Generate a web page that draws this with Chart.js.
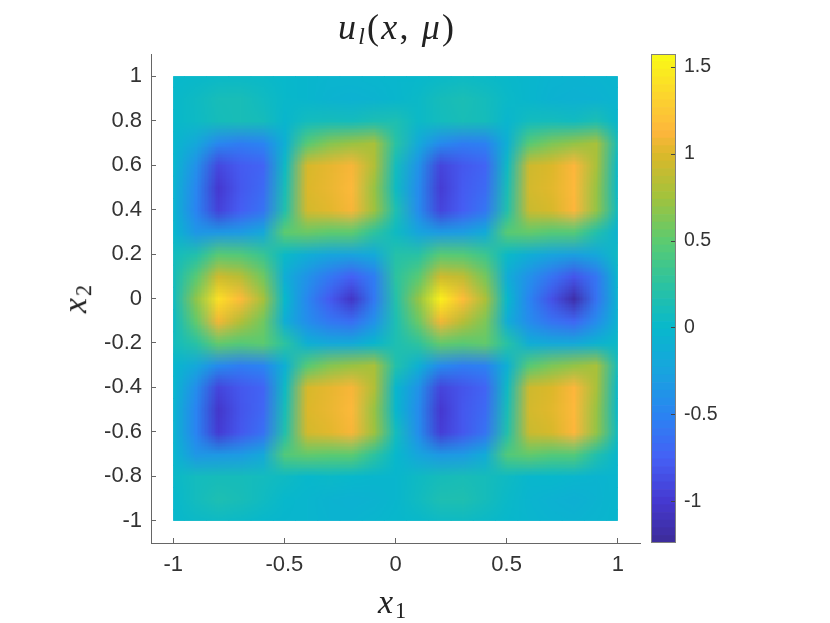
<!DOCTYPE html>
<html>
<head>
<meta charset="utf-8">
<title>u_l(x, mu)</title>
<script src="https://cdn.jsdelivr.net/npm/chart.js@4/dist/chart.umd.min.js"></script>
<style>
  html, body { margin: 0; padding: 0; background: #fff; }
  #wrap { position: relative; width: 830px; height: 623px; overflow: hidden; }
  canvas { position: absolute; top: 0; }
  .mathText { position: absolute; font-family: "Liberation Serif", serif; color: #222; white-space: nowrap; line-height: 1; }
  .mathText i { font-style: italic; }
  .mathText sub { font-size: 66%; vertical-align: baseline; position: relative; top: 0.22em; }
</style>
</head>
<body>
<div id="wrap">
  <canvas id="heatChart" width="830" height="623" style="left:0"></canvas>
  <canvas id="barChart" width="190" height="623" style="left:640px"></canvas>
  <div class="mathText" style="left:338px;top:9px;font-size:36px;letter-spacing:2.2px"><i>u<sub>l</sub></i>(<i>x</i>, <i>μ</i>)</div>
  <div class="mathText" style="left:378px;top:585px;font-size:34px;letter-spacing:2px"><i>x</i><sub>1</sub></div>
  <div class="mathText" style="left:60px;top:281px;font-size:34px;letter-spacing:2px;transform:rotate(-90deg)"><i>x</i><sub>2</sub></div>
</div>
<script>
// Grid nodes
const xNodes = [-1, -0.9, -0.8, -0.7, -0.6, -0.5, -0.4, -0.3, -0.2, -0.1, 0, 0.1, 0.2, 0.3, 0.4, 0.5, 0.6, 0.7, 0.8, 0.9, 1];
const yNodes = [1, 0.9, 0.8, 0.7, 0.6, 0.5, 0.4, 0.3, 0.2, 0.1, 0, -0.1, -0.2, -0.3, -0.4, -0.5, -0.6, -0.7, -0.8, -0.9, -1];

// u values, times 100, one row per y node
const uRows = [
  [0, 1, 2, 3, 2, 0, -2, -4, -4, -3, -1, 0, 2, 4, 3, 1, -2, -5, -6, -5, -3],
  [1, 5, 11, 12, 6, 1, -2, -6, -8, -6, -2, 3, 10, 13, 9, 2, -2, -7, -9, -8, -4],
  [1, 4, 10, 12, 10, -2, 8, 10, 9, 14, 15, 3, 8, 12, 10, -3, 8, 9, 7, 14, -2],
  [-2, -20, -48, -55, -50, -10, 48, 65, 72, 78, 22, -18, -45, -55, -52, -10, 48, 62, 70, 78, 10],
  [-3, -40, -90, -78, -72, 5, 98, 104, 110, 82, 8, -38, -92, -80, -72, 5, 94, 100, 112, 78, 0],
  [-6, -48, -100, -80, -68, 12, 100, 105, 114, 72, 5, -44, -97, -78, -68, 12, 96, 102, 114, 72, 0],
  [-6, -50, -94, -76, -62, 18, 96, 102, 110, 74, 15, -44, -92, -76, -60, 18, 92, 98, 112, 70, 5],
  [-2, -35, -34, -32, -20, 50, 55, 50, 50, 26, 5, -24, -32, -30, -16, 48, 52, 46, 46, 18, -8],
  [8, 18, 48, 45, 32, 2, -12, -22, -25, -18, 20, 22, 48, 46, 34, 2, -12, -24, -28, -20, 5],
  [10, 48, 95, 85, 58, -12, -38, -58, -75, -55, 25, 48, 95, 88, 60, -14, -40, -62, -82, -60, 0],
  [8, 68, 140, 115, 78, 0, -48, -78, -104, -58, 20, 70, 150, 116, 80, 0, -50, -84, -115, -62, -5],
  [5, 52, 108, 82, 58, -12, -42, -58, -65, -40, 15, 55, 108, 84, 62, -14, -44, -62, -70, -44, -5],
  [8, 22, 52, 46, 50, 25, -10, -18, -16, -2, 15, 26, 52, 48, 52, 22, -12, -18, -18, -6, 3],
  [-2, -20, -45, -55, -50, -10, 48, 65, 72, 78, 18, -10, -45, -55, -52, -10, 48, 62, 70, 78, 8],
  [-3, -42, -92, -80, -72, 5, 98, 104, 110, 82, -2, -38, -92, -82, -72, 5, 94, 100, 112, 78, 0],
  [-6, -50, -102, -82, -70, 12, 100, 105, 114, 72, -2, -44, -100, -80, -68, 12, 96, 102, 114, 72, 0],
  [-6, -50, -98, -80, -64, 18, 96, 102, 110, 74, 8, -42, -96, -80, -62, 18, 92, 98, 112, 70, 5],
  [-3, -35, -34, -32, -20, 45, 52, 50, 50, 26, 0, -24, -34, -32, -16, 45, 52, 46, 46, 18, -3],
  [2, 8, 10, 10, 8, 5, 0, 2, 0, -2, -2, 5, 10, 12, 10, 5, -1, 0, -3, -5, -3],
  [0, 8, 15, 12, 6, 0, -3, -6, -8, -6, -2, 6, 15, 16, 10, 2, -4, -8, -10, -6, -2],
  [0, 3, 4, 3, 0, -2, -3, -5, -5, -3, 0, 1, 4, 5, 3, 0, -3, -5, -6, -4, -2]
];

const xTicks = [-1, -0.5, 0, 0.5, 1];
const yTicks = [-1, -0.8, -0.6, -0.4, -0.2, 0, 0.2, 0.4, 0.6, 0.8, 1];
const barTicks = [-1, -0.5, 0, 0.5, 1, 1.5];
const barMin = -1.236;
const barMax = 1.575;

// colour map, colours
const mapValues = [-1.236, -1, -0.75, -0.5, -0.25, 0, 0.25, 0.5, 0.75, 1, 1.12, 1.3, 1.575];
const mapColors = ["#3c2c98", "#4538d0", "#4560f5", "#2a84f2", "#18a4de", "#08b8cc", "#2cc3a0", "#5ccb70", "#a2c23c", "#dcb82a", "#fdb63c", "#fcd030", "#f9fb15"];

const TICK_FONT = { family: "'Liberation Sans', Arial, sans-serif", size: 22 };
const BAR_FONT = { family: "'Liberation Sans', Arial, sans-serif", size: 19.5 };
const TEXT_COLOR = "#333";
const AXIS_COLOR = "#666";

function hexToRgb(hex) {
  return [1, 3, 5].map((i) => parseInt(hex.slice(i, i + 2), 16));
}

function colorFor(v) {
  let i = 0;
  while (i < mapValues.length - 2 && v > mapValues[i + 1]) i++;
  let t = (v - mapValues[i]) / (mapValues[i + 1] - mapValues[i]);
  t = Math.max(0, Math.min(1, t));
  const a = hexToRgb(mapColors[i]);
  const b = hexToRgb(mapColors[i + 1]);
  return `rgb(${a.map((c, k) => Math.round(c + (b[k] - c) * t)).join(",")})`;
}

// One point per grid node
const cells = [];
const cellColors = [];
yNodes.forEach((y, r) => {
  xNodes.forEach((x, c) => {
    cells.push({ x: x, y: y });
    cellColors.push(colorFor(uRows[r][c] / 100));
  });
});

// Shades between the nodes, like shading interp does
const interpShading = {
  id: "interpShading",
  afterDatasetsDraw(chart) {
    const { ctx, scales } = chart;
    const small = document.createElement("canvas");
    small.width = xNodes.length;
    small.height = yNodes.length;
    const sctx = small.getContext("2d");
    cellColors.forEach((col, i) => {
      sctx.fillStyle = col;
      sctx.fillRect(i % xNodes.length, Math.floor(i / xNodes.length), 1, 1);
    });
    const left = scales.x.getPixelForValue(xNodes[0]);
    const right = scales.x.getPixelForValue(xNodes[xNodes.length - 1]);
    const top = scales.y.getPixelForValue(yNodes[0]);
    const bottom = scales.y.getPixelForValue(yNodes[yNodes.length - 1]);
    const dx = (right - left) / (xNodes.length - 1);
    const dy = (bottom - top) / (yNodes.length - 1);
    ctx.save();
    ctx.beginPath();
    ctx.rect(left, top, right - left, bottom - top);
    ctx.clip();
    ctx.imageSmoothingEnabled = true;
    ctx.imageSmoothingQuality = "low";
    ctx.drawImage(small, left - dx / 2, top - dy / 2, dx * xNodes.length, dy * yNodes.length);
    ctx.restore();
  },
};

new Chart(document.getElementById("heatChart"), {
  type: "scatter",
  data: {
    datasets: [
      {
        data: cells,
        pointStyle: "rect",
        pointRadius: 16.5,
        pointBorderWidth: 0,
        backgroundColor: cellColors,
        clip: -22.25,
      },
    ],
  },
  options: {
    responsive: false,
    animation: false,
    devicePixelRatio: 1,
    layout: { padding: { left: 0, top: 54, right: 190, bottom: 0 } },
    plugins: { legend: { display: false }, tooltip: { enabled: false } },
    scales: {
      x: {
        type: "linear",
        min: -1.1,
        max: 1.1,
        afterFit: (scale) => { scale.height = 80; },
        afterBuildTicks: (scale) => { scale.ticks = xTicks.map((v) => ({ value: v })); },
        border: { color: AXIS_COLOR, width: 1 },
        grid: { drawOnChartArea: false, tickLength: -5, color: AXIS_COLOR },
        ticks: {
          padding: 14,
          maxRotation: 0,
          autoSkip: false,
          color: TEXT_COLOR,
          font: TICK_FONT,
          callback: (v) => String(v),
        },
      },
      y: {
        type: "linear",
        min: -1.1,
        max: 1.1,
        afterFit: (scale) => { scale.width = 151; },
        afterBuildTicks: (scale) => { scale.ticks = yTicks.map((v) => ({ value: v })); },
        border: { color: AXIS_COLOR, width: 1 },
        grid: { drawOnChartArea: false, tickLength: -5, color: AXIS_COLOR },
        ticks: {
          padding: 14,
          autoSkip: false,
          color: TEXT_COLOR,
          font: TICK_FONT,
          callback: (v) => String(v),
        },
      },
    },
  },
  plugins: [interpShading],
});

// Colorbar: one floating bar per colour level
const barLevels = 64;
const levelSets = [];
for (let i = 0; i < barLevels; i++) {
  const lo = barMin + ((barMax - barMin) * i) / barLevels;
  const hi = barMin + ((barMax - barMin) * (i + 1)) / barLevels;
  levelSets.push({
    data: [[lo, hi]],
    backgroundColor: colorFor((lo + hi) / 2),
    borderWidth: 0,
    barPercentage: 1,
    categoryPercentage: 1,
    grouped: false,
  });
}

const barFrame = {
  id: "barFrame",
  afterDraw(chart) {
    const { ctx, chartArea } = chart;
    ctx.save();
    ctx.strokeStyle = "#808080";
    ctx.lineWidth = 1;
    ctx.strokeRect(chartArea.left + 0.5, chartArea.top + 0.5, chartArea.width - 1, chartArea.height - 1);
    ctx.restore();
  },
};

new Chart(document.getElementById("barChart"), {
  type: "bar",
  data: { labels: [""], datasets: levelSets },
  options: {
    responsive: false,
    animation: false,
    devicePixelRatio: 1,
    layout: { padding: { left: 11, top: 54, right: 0, bottom: 80 } },
    plugins: { legend: { display: false }, tooltip: { enabled: false } },
    scales: {
      x: { display: false },
      y: {
        position: "right",
        min: barMin,
        max: barMax,
        afterFit: (scale) => { scale.width = 154; },
        afterBuildTicks: (scale) => { scale.ticks = barTicks.map((v) => ({ value: v })); },
        border: { display: false },
        grid: { drawOnChartArea: false, tickLength: -5, color: "#444", z: 1 },
        ticks: {
          padding: 13,
          autoSkip: false,
          color: TEXT_COLOR,
          font: BAR_FONT,
          callback: (v) => String(v),
        },
      },
    },
  },
  plugins: [barFrame],
});
</script>
</body>
</html>
